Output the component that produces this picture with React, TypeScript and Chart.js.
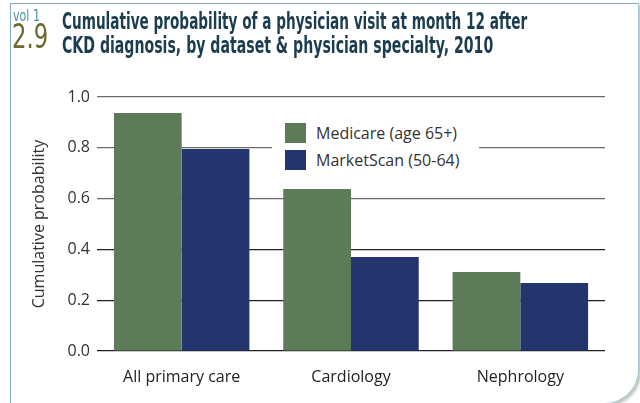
import React, { useEffect, useRef } from 'react';
import { Chart, registerables } from 'chart.js';

Chart.register(...registerables);

const categories = ['All primary care', 'Cardiology', 'Nephrology'];
const seriesLabels = ['Medicare (age 65+)', 'MarketScan (50-64)'];
const medicare = [0.937, 0.638, 0.311];
const marketscan = [0.795, 0.37, 0.268];
const yTicks = [0, 0.2, 0.4, 0.6, 0.8, 1.0];
const titleLines = [
  'Cumulative probability of a physician visit at month 12 after',
  'CKD diagnosis, by dataset & physician specialty, 2010',
];
const seriesColors = ['#5e7b59', '#24356e'];

export default function App() {
  const canvasRef = useRef<HTMLCanvasElement>(null);
  const l1 = useRef<HTMLSpanElement>(null);
  const l2 = useRef<HTMLSpanElement>(null);
  const vol = useRef<HTMLSpanElement>(null);
  const num = useRef<HTMLSpanElement>(null);

  useEffect(() => {
    const fit = (el: HTMLSpanElement | null, w: number) => {
      if (!el) return;
      el.style.transform = 'none';
      const ow = el.offsetWidth;
      if (ow > 0) el.style.transform = `scaleX(${w / ow})`;
    };
    fit(l1.current, 465);
    fit(l2.current, 431);
    fit(vol.current, 27);
    fit(num.current, 36);

    const canvas = canvasRef.current!;
    const chart = new Chart(canvas, {
      type: 'bar',
      data: {
        labels: categories,
        datasets: [
          { label: seriesLabels[0], data: medicare, backgroundColor: seriesColors[0], categoryPercentage: 0.8, barPercentage: 1.0 },
          { label: seriesLabels[1], data: marketscan, backgroundColor: seriesColors[1], categoryPercentage: 0.8, barPercentage: 1.0 },
        ],
      },
      options: {
        responsive: false,
        animation: false,
        layout: { padding: { left: 10, top: 97, right: 35, bottom: 12 } },
        plugins: { legend: { display: false }, tooltip: { enabled: false } },
        scales: {
          x: {
            grid: { display: false },
            border: { display: false },
            ticks: { font: { family: 'Open Sans', size: 16 }, color: '#222', padding: 9 },
            afterFit: (s: any) => { s.height = 40; },
          },
          y: {
            min: 0,
            max: 1,
            afterBuildTicks: (s: any) => { s.ticks = yTicks.map((v) => ({ value: v })); },
            ticks: {
              font: { family: 'Open Sans', size: 16 },
              color: '#333',
              padding: 7,
              callback: (v: any) => Number(v).toFixed(1),
            },
            grid: {
              drawTicks: false,
              color: (ctx: any) => (ctx.tick && ctx.tick.value >= 0.6 ? '#6a6a6a' : '#222'),
              lineWidth: 1.2,
            },
            border: { display: false },
            title: {
              display: true,
              text: 'Cumulative probability',
              font: { family: 'Open Sans', size: 16 },
              color: '#333',
              padding: { top: 20, bottom: 0 },
            },
            afterFit: (s: any) => { s.width = 87; },
          },
        },
      },
    });
    return () => chart.destroy();
  }, []);

  const narrow = '"Liberation Sans Narrow", "DejaVu Sans Condensed", sans-serif';
  const fitStyle: React.CSSProperties = { position: 'absolute', whiteSpace: 'nowrap', transformOrigin: 'left top', display: 'inline-block' };

  return (
    <div style={{ position: 'fixed', left: 0, top: 0, width: 640, height: 403, overflow: 'hidden', background: '#fff' }}>
      <div style={{
        position: 'absolute', left: 10, top: 3, width: 627, height: 399,
        borderTop: '1.5px solid #7fb0bc', borderLeft: '1.5px solid #7fb0bc',
        borderRight: '1.5px solid #9fc2cb', borderBottom: '1.5px solid #9fc2cb',
        borderBottomRightRadius: 34, boxShadow: '2px 2px 3px rgba(0,0,0,0.25)',
      }} />
      <canvas ref={canvasRef} width={640} height={403} style={{ position: 'absolute', left: 0, top: 0 }} />
      <span ref={vol} style={{ ...fitStyle, left: 13, top: 8, fontFamily: narrow, fontSize: 16, lineHeight: '16px', color: '#4f8fa1' }}>vol 1</span>
      <span ref={num} style={{ ...fitStyle, left: 12, top: 20, fontFamily: narrow, fontSize: 33, lineHeight: '33px', color: '#6c6a2f' }}>2.9</span>
      <span ref={l1} style={{ ...fitStyle, left: 62, top: 9.5, fontFamily: narrow, fontWeight: 'bold', fontSize: 23, lineHeight: '23px', color: '#1b3d4f' }}>{titleLines[0]}</span>
      <span ref={l2} style={{ ...fitStyle, left: 62, top: 33.5, fontFamily: narrow, fontWeight: 'bold', fontSize: 23, lineHeight: '23px', color: '#1b3d4f' }}>{titleLines[1]}</span>
      <div style={{ position: 'absolute', left: 272, top: 117, width: 207, height: 58, background: '#fff' }}>
        {seriesLabels.map((lab, i) => (
          <div key={lab} style={{ position: 'absolute', left: 13, top: 6 + i * 27, height: 20, display: 'flex', alignItems: 'center', whiteSpace: 'nowrap' }}>
            <div style={{ width: 21, height: 20, background: seriesColors[i] }} />
            <span style={{ marginLeft: 10, fontFamily: 'Open Sans', fontSize: 16, color: '#333' }}>{lab}</span>
          </div>
        ))}
      </div>
    </div>
  );
}
